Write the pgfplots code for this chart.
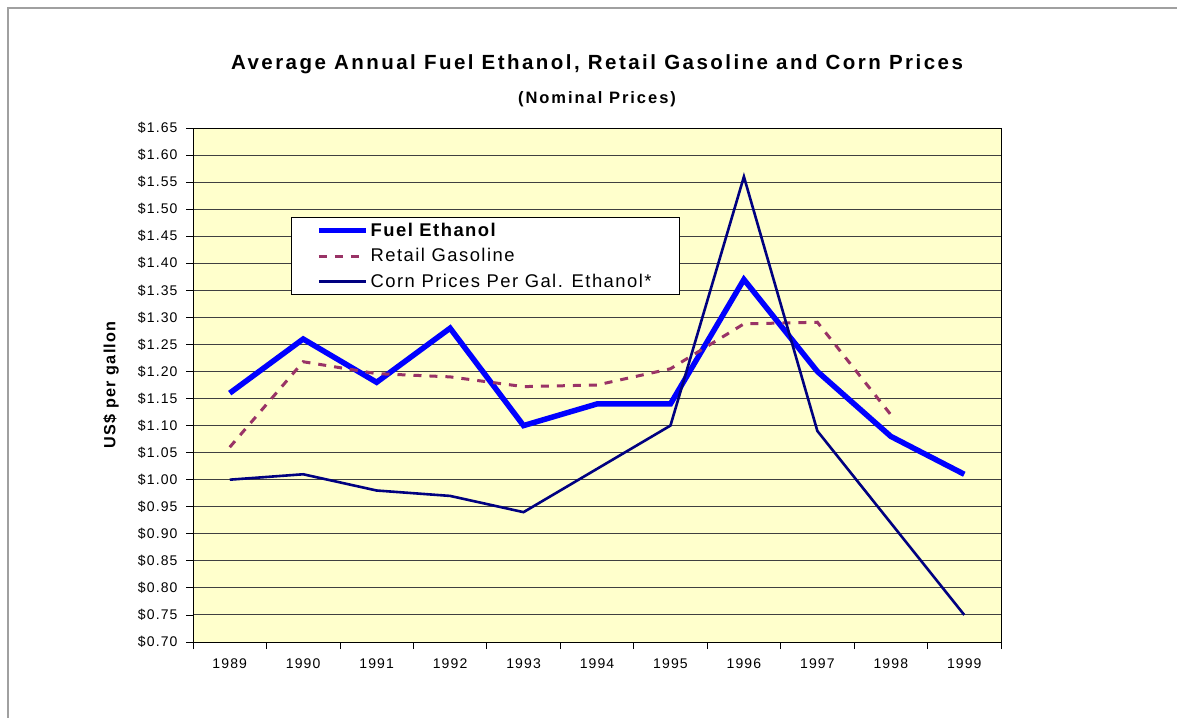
\documentclass[border=0pt]{standalone}
\usepackage{fontspec}
\setmainfont{Liberation Sans}
\newfontfamily\tickfont[LetterSpace=8]{Liberation Sans}
\newfontfamily\titlefont[LetterSpace=12]{Liberation Sans}
\usepackage{pgfplots}
\pgfplotsset{compat=1.18}
\definecolor{bgyel}{RGB}{255,255,204}
\definecolor{ethblue}{RGB}{0,0,255}
\definecolor{gasred}{RGB}{153,51,102}
\definecolor{cornnavy}{RGB}{0,0,128}
\definecolor{framegray}{RGB}{160,160,160}
\begin{document}
\begin{tikzpicture}[x=1pt,y=1pt]
\path[use as bounding box] (-193,-75) rectangle (984,642);
\draw[framegray, line width=2pt] (-185,-80) -- (-185,634) -- (990,634);
\node[font=\titlefont\bfseries\fontsize{20.5}{23}\selectfont] at (404,578) {Average Annual Fuel Ethanol, Retail Gasoline and Corn Prices};
\node[font=\titlefont\bfseries\fontsize{16.5}{19}\selectfont] at (404,543) {(Nominal Prices)};
\node[rotate=90, font=\tickfont\bfseries\fontsize{16.2}{18}\selectfont] at (-82,257) {US\$ per gallon};
\begin{axis}[
  at={(0pt,0pt)}, anchor=south west,
  scale only axis, width=808pt, height=514pt,
  xmin=-0.5, xmax=10.5, ymin=0.70, ymax=1.65,
  axis background/.style={fill=bgyel},
  axis line style={black, line width=0.9pt},
  xtick={0,1,2,3,4,5,6,7,8,9,10},
  xticklabels={1989,1990,1991,1992,1993,1994,1995,1996,1997,1998,1999},
  major x tick style={draw=none},
  minor xtick={-0.5,0.5,1.5,2.5,3.5,4.5,5.5,6.5,7.5,8.5,9.5,10.5},
  minor x tick style={black, line width=0.8pt},
  minor tick length=7pt,
  ytick={0.70,0.75,0.80,0.85,0.90,0.95,1.00,1.05,1.10,1.15,1.20,1.25,1.30,1.35,1.40,1.45,1.50,1.55,1.60,1.65},
  yticklabels={\$0.70,\$0.75,\$0.80,\$0.85,\$0.90,\$0.95,\$1.00,\$1.05,\$1.10,\$1.15,\$1.20,\$1.25,\$1.30,\$1.35,\$1.40,\$1.45,\$1.50,\$1.55,\$1.60,\$1.65},
  major y tick style={black, line width=0.8pt},
  major tick length=7pt,
  tick align=outside, tick pos=left,
  ymajorgrids, grid style={black!75, line width=0.9pt},
  ticklabel style={font=\tickfont\fontsize{14}{16}\selectfont},
  xticklabel style={yshift=-6pt},
  yticklabel style={xshift=-5pt},
  legend style={at={(0.121,0.827)}, anchor=north west, draw=black, fill=white, line width=0.8pt,
    font=\tickfont\fontsize{18.4}{21}\selectfont, inner xsep=3pt, inner ysep=4pt,
    row sep=6.5pt},
  legend cell align=left,
  legend image code/.code={\path (0pt,0pt); \draw[#1] (22pt,0pt) -- (69pt,0pt);},
]
\addplot[ethblue, line width=5.5pt, line join=miter] coordinates {
 (0,1.16) (1,1.26) (2,1.18) (3,1.28) (4,1.10) (5,1.14) (6,1.14) (7,1.37) (8,1.20) (9,1.08) (10,1.01)};
\addlegendentry{\textbf{Fuel Ethanol}}
\addplot[gasred, line width=3pt, dash pattern=on 8pt off 8pt] coordinates {
 (0,1.06) (1,1.218) (2,1.196) (3,1.19) (4,1.172) (5,1.175) (6,1.205) (7,1.288) (8,1.291) (9,1.12)};
\addlegendentry{Retail Gasoline}
\addplot[cornnavy, line width=2.6pt] coordinates {
 (0,1.00) (1,1.01) (2,0.98) (3,0.97) (4,0.94) (5,1.02) (6,1.10) (7,1.56) (8,1.09) (9,0.92) (10,0.75)};
\addlegendentry{Corn Prices Per Gal. Ethanol*\hspace*{23pt}}
\end{axis}
\end{tikzpicture}
\end{document}
